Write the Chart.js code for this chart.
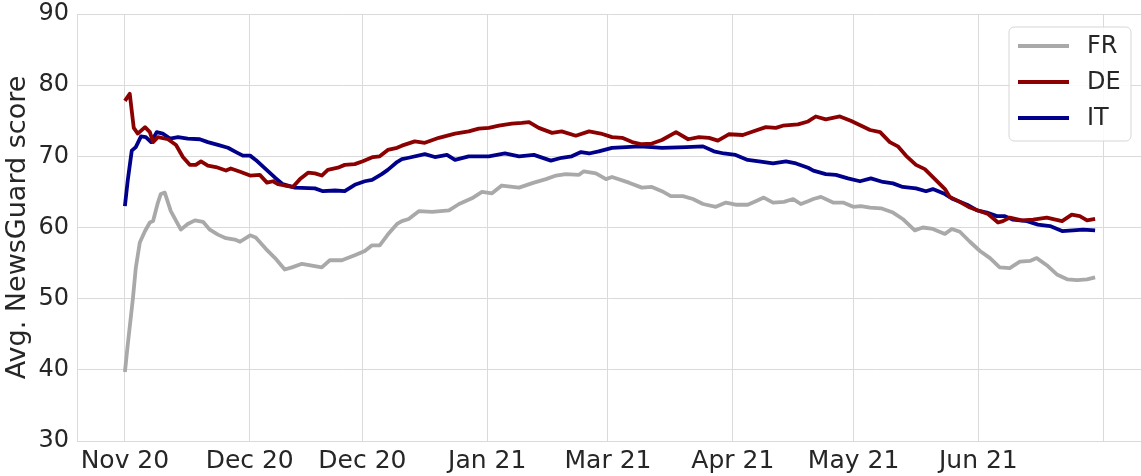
<!DOCTYPE html>
<html>

<head>
    <title>NewsGuard score</title>
    <script src="https://cdn.jsdelivr.net/npm/chart.js@4.4.1/dist/chart.umd.min.js"></script>
    <style>
        html, body { margin: 0; padding: 0; background: #ffffff; }
        #wrap { width: 1141px; height: 476px; }
    </style>
</head>

<body>
    <div id="wrap"><canvas id="myChart" width="1141" height="476"></canvas></div>
    <script>

        // x values are days counted from the first tick
        var tickDays = [0, 31, 59, 90, 120, 151, 181, 212, 243];
        var tickLabels = ['Nov 20', 'Dec 20', 'Dec 20', 'Jan 21', 'Mar 21', 'Apr 21', 'May 21', 'Jun 21', ''];

        var frDay = [0, 0.7, 2, 2.7, 3.7, 5, 6.2, 7, 8.2, 8.9, 9.9, 11.4, 13.9, 15.6, 17.4, 19.4, 21.1, 23.1, 25.1, 27.3, 28.6, 31.1, 32.5, 35, 37.3, 39.7, 41.5, 44, 48.9, 50.9, 53.9, 57.1, 59.6, 61.4, 63.3, 65.3, 67.6, 68.8, 70.5, 73, 76.3, 80.5, 83, 86.2, 88.7, 91.2, 93.6, 97.9, 101.6, 104.6, 107.1, 109.5, 112.8, 114, 117, 119.5, 121, 125.2, 128.4, 130.9, 133.4, 135.6, 138.6, 141.1, 143.6, 146.8, 149.3, 151.7, 154.7, 156.7, 158.7, 161, 163.7, 166, 167.9, 169.7, 171, 172.9, 175.9, 178.4, 180.9, 182.8, 185.1, 187.8, 190.8, 193.2, 196.2, 198.2, 200.7, 203.7, 205.4, 207.4, 209.9, 212.4, 214.9, 217.3, 219.8, 222.3, 224.8, 226.5, 229, 231.5, 234.2, 236.5, 239, 241];
        var frScore = [39.7, 43.5, 50.1, 54.3, 57.9, 59.5, 60.7, 60.9, 63.5, 64.7, 64.9, 62.3, 59.7, 60.5, 61, 60.8, 59.7, 59, 58.5, 58.3, 58, 58.9, 58.6, 57, 55.7, 54.1, 54.4, 54.9, 54.4, 55.4, 55.4, 56.1, 56.7, 57.5, 57.5, 59, 60.5, 60.9, 61.2, 62.3, 62.2, 62.4, 63.3, 64.1, 65, 64.8, 65.9, 65.6, 66.3, 66.8, 67.3, 67.5, 67.4, 67.9, 67.6, 66.8, 67.1, 66.3, 65.6, 65.7, 65.1, 64.4, 64.4, 64, 63.3, 62.9, 63.5, 63.2, 63.2, 63.7, 64.2, 63.5, 63.6, 64, 63.3, 63.7, 64, 64.3, 63.5, 63.5, 62.9, 63, 62.8, 62.7, 62.1, 61.2, 59.6, 60, 59.8, 59.1, 59.8, 59.4, 58, 56.7, 55.7, 54.4, 54.3, 55.2, 55.3, 55.7, 54.7, 53.4, 52.7, 52.6, 52.7, 53];

        var deDay = [0, 1.2, 2.2, 3.2, 5, 6.2, 7, 8.2, 10.7, 12.7, 14.4, 16.1, 17.6, 18.9, 20.6, 22.6, 25.1, 26.3, 28.8, 31.1, 33.5, 35.3, 36.8, 38, 39.7, 41.7, 43.5, 45.5, 47.2, 48.9, 50.4, 52.9, 54.6, 57.1, 59.1, 61.6, 63.3, 65.3, 67.6, 68.8, 72, 74.5, 78, 82, 85.4, 87.9, 90.4, 92.9, 96.1, 98.6, 100.4, 102.8, 106.1, 108.5, 112, 115.3, 118.2, 121, 123.5, 126, 128.4, 130.9, 133.4, 136.9, 139.9, 142.6, 145.1, 147.3, 150, 153.5, 156, 159.2, 161.7, 163.4, 167.2, 169.7, 171.6, 174.1, 177.6, 180.3, 183.3, 185.1, 187.6, 190, 192, 194, 196.5, 198.7, 201.2, 203.7, 204.9, 207.4, 209.9, 211.9, 214.4, 216.9, 218.1, 219.8, 222.8, 225.6, 229, 232.8, 235.2, 237.2, 239, 241];
        var deScore = [77.8, 78.8, 74, 73.2, 74.1, 73.4, 72, 72.7, 72.4, 71.6, 69.9, 68.8, 68.8, 69.3, 68.7, 68.5, 68, 68.3, 67.8, 67.3, 67.4, 66.3, 66.5, 66.1, 65.9, 65.7, 66.8, 67.7, 67.6, 67.3, 68.1, 68.4, 68.8, 68.9, 69.3, 69.9, 70, 70.9, 71.2, 71.5, 72.1, 71.9, 72.6, 73.2, 73.5, 73.9, 74, 74.3, 74.6, 74.7, 74.8, 74, 73.3, 73.5, 72.9, 73.5, 73.2, 72.7, 72.6, 72, 71.7, 71.8, 72.3, 73.4, 72.4, 72.7, 72.6, 72.2, 73.1, 73, 73.5, 74.1, 74, 74.3, 74.5, 74.9, 75.6, 75.2, 75.6, 75, 74.2, 73.7, 73.4, 72, 71.4, 70.1, 68.8, 68.2, 66.8, 65.4, 64.3, 63.6, 62.8, 62.4, 61.9, 60.7, 60.9, 61.4, 61, 61.1, 61.4, 60.9, 61.8, 61.6, 61, 61.2];

        var itDay = [0, 0.7, 1.7, 2.7, 4, 5.2, 6.5, 7.9, 9.4, 11.2, 13.2, 15.6, 18.6, 20.6, 23.1, 25.6, 27.6, 29.3, 31.1, 32.5, 35, 37.3, 39.2, 42.2, 47.2, 49.2, 52.2, 54.6, 57.1, 59.6, 61.4, 63.8, 65.3, 67.6, 68.8, 70.5, 74.5, 77, 80, 82, 85.4, 90.4, 94.4, 97.9, 101.6, 105.8, 108.5, 111, 113.3, 115.3, 117.7, 121, 124.5, 127.7, 130.9, 133.4, 139.4, 143.6, 146.3, 148.8, 151.7, 154.7, 157.5, 161, 164.2, 166.7, 169.7, 171, 174.1, 176.6, 179.6, 182.6, 185.3, 188.3, 190.8, 193.2, 196.5, 199, 200.7, 203.7, 205.7, 209.2, 211.7, 214.1, 216.6, 218.6, 220.6, 224.1, 226.8, 229.8, 232.8, 235.5, 238, 241];
        var itScore = [63, 66.6, 70.8, 71.3, 72.8, 72.7, 72, 73.4, 73.2, 72.5, 72.7, 72.5, 72.4, 72, 71.6, 71.2, 70.6, 70.1, 70.1, 69.5, 68.2, 67, 66.1, 65.6, 65.5, 65.1, 65.2, 65.1, 66, 66.5, 66.7, 67.5, 68.1, 69.2, 69.6, 69.8, 70.3, 69.9, 70.2, 69.5, 70, 70, 70.4, 70, 70.2, 69.4, 69.8, 70, 70.6, 70.4, 70.7, 71.2, 71.3, 71.4, 71.3, 71.2, 71.3, 71.4, 70.7, 70.4, 70.2, 69.5, 69.3, 69, 69.3, 69, 68.4, 68, 67.5, 67.4, 66.9, 66.5, 66.9, 66.4, 66.2, 65.7, 65.5, 65.1, 65.4, 64.7, 64, 63.2, 62.4, 62.1, 61.6, 61.6, 61.1, 60.9, 60.4, 60.2, 59.5, 59.6, 59.7, 59.6];

        var textColor = '#262626';
        var gridColor = '#dadada';
        var fontName = "'DejaVu Sans', sans-serif";

        function toPoints(days, scores) {
            var pts = [];
            for (var i = 0; i < days.length; i++) {
                pts.push({ x: days[i], y: scores[i] });
            }
            return pts;
        }

        function lineSet(label, color, days, scores) {
            return {
                label: label,
                data: toPoints(days, scores),
                borderColor: color,
                backgroundColor: color,
                borderWidth: 3.8,
                pointRadius: 0,
                fill: false,
                tension: 0,
                borderJoinStyle: 'round'
            };
        }

        // legend drawn inside the plot, upper right, like matplotlib
        var innerLegend = {
            id: 'innerLegend',
            afterDraw: function (chart) {
                var ctx = chart.ctx;
                var sets = chart.data.datasets;
                var bx = 1009, by = 27, bw = 122, bh = 114;
                ctx.save();
                ctx.beginPath();
                ctx.roundRect(bx, by, bw, bh, 5);
                ctx.fillStyle = 'rgba(255,255,255,0.85)';
                ctx.fill();
                ctx.strokeStyle = '#d6d6d6';
                ctx.lineWidth = 1;
                ctx.stroke();
                ctx.font = '24px ' + fontName;
                ctx.textBaseline = 'middle';
                for (var i = 0; i < sets.length; i++) {
                    var y = 46 + i * 36;
                    ctx.beginPath();
                    ctx.moveTo(1018, y);
                    ctx.lineTo(1069, y);
                    ctx.strokeStyle = sets[i].borderColor;
                    ctx.lineWidth = 3.8;
                    ctx.stroke();
                    ctx.fillStyle = textColor;
                    ctx.fillText(sets[i].label, 1087, y + 1);
                }
                ctx.restore();
            }
        };

        var ctx = document.getElementById('myChart').getContext('2d');
        var chart = new Chart(ctx, {
            type: 'line',
            data: {
                datasets: [
                    lineSet('FR', '#a9a9a9', frDay, frScore),
                    lineSet('DE', '#8b0000', deDay, deScore),
                    lineSet('IT', '#00008b', itDay, itScore)
                ]
            },
            options: {
                responsive: false,
                animation: false,
                layout: { padding: { top: 0, right: 0, left: 0, bottom: 0 } },
                plugins: {
                    legend: { display: false },
                    tooltip: { enabled: false }
                },
                scales: {
                    x: {
                        type: 'linear',
                        min: -11.9,
                        max: 252.4,
                        afterBuildTicks: function (scale) {
                            scale.ticks = tickDays.map(function (d) { return { value: d }; });
                        },
                        afterFit: function (scale) { scale.height = 35; },
                        ticks: {
                            autoSkip: false,
                            maxRotation: 0,
                            padding: 5,
                            color: textColor,
                            font: { family: fontName, size: 25 },
                            callback: function (value, index) { return tickLabels[index]; }
                        },
                        grid: { color: gridColor, lineWidth: 1, drawTicks: false },
                        border: { color: gridColor }
                    },
                    y: {
                        min: 30,
                        max: 90,
                        afterFit: function (scale) {
                            scale.width = 77;
                            scale.paddingTop = 14;
                        },
                        ticks: {
                            stepSize: 10,
                            padding: 8,
                            color: textColor,
                            font: { family: fontName, size: 24 }
                        },
                        title: {
                            display: true,
                            text: 'Avg. NewsGuard score',
                            color: textColor,
                            font: { family: fontName, size: 27 },
                            padding: { top: 2, bottom: 0 }
                        },
                        grid: { color: gridColor, lineWidth: 1, drawTicks: false },
                        border: { color: gridColor }
                    }
                }
            },
            plugins: [innerLegend]
        });
    </script>

</body>

</html>
